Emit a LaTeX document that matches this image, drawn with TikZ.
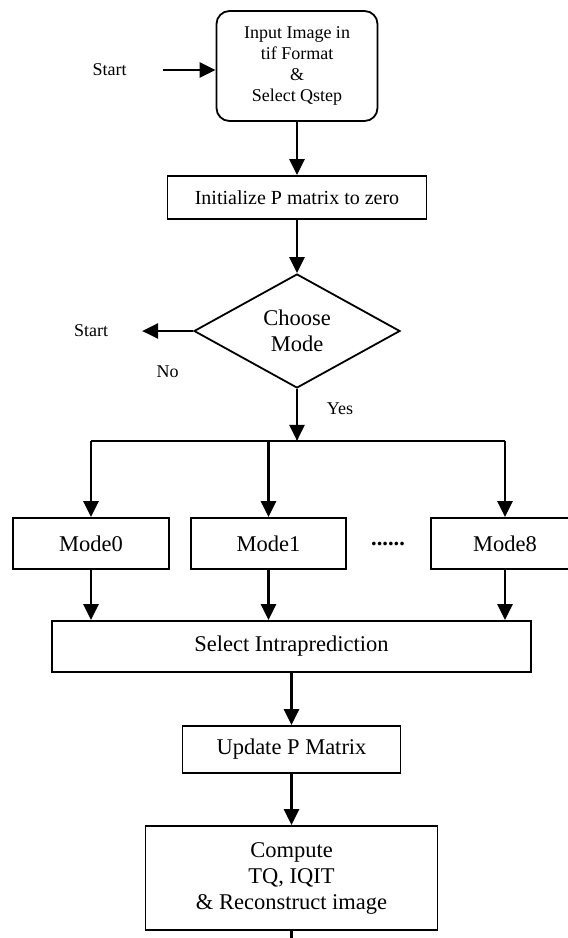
\documentclass[tikz,border=0pt]{standalone}
\usepackage{fontspec}
\setmainfont{Liberation Serif}
\usepackage{tikz}
\usetikzlibrary{shapes.geometric, arrows.meta}
\tikzstyle{block} = [rectangle, line width=1.8pt, minimum height=51pt, text centered, align=center, draw=black, font=\fontsize{22.5}{26}\selectfont]
\tikzstyle{terminus} = [rectangle, rounded corners=13pt, line width=1.8pt, minimum width=161pt, minimum height=110pt, align=center, draw=black, font=\fontsize{18}{21}\selectfont]
\tikzstyle{choix} = [diamond, line width=1.8pt, minimum width=206pt, minimum height=114pt, inner sep=0pt, align=center, draw=black, font=\fontsize{22.5}{26}\selectfont]
\tikzstyle{arrow} = [line width=2.6pt,-{Triangle[length=16pt,width=15pt]}]
\tikzstyle{wire} = [line width=2.6pt]
\tikzstyle{remark} = [font=\fontsize{18}{21}\selectfont]

\begin{document}
\begin{tikzpicture}[node distance=130pt]
	\useasboundingbox (0,0) rectangle (568pt,-938pt);
	\node (input) [terminus] at (297pt,-66pt) {Input Image in\\tif Format\\\&\\Select Qstep};
	\node (start) [remark, left of=input, xshift=-57.5pt, yshift=-4pt] {Start};
	\node (init) [block, below of=input, yshift=-1.5pt, minimum width=259pt, minimum height=43pt, font=\fontsize{20}{23}\selectfont] {Initialize P matrix to zero};
	\node (dec) [choix, below of=init, yshift=-3.5pt] {Choose\\Mode};
	\node (start2) [remark, left of=dec, xshift=-76pt] {Start};
	\coordinate (nostop) at ([xshift=-51pt]dec.west);
	\coordinate (fork) at ([yshift=-52pt]dec.south);
	\node (mode1) [block, below of=dec, yshift=-82.5pt, xshift=-28.5pt, minimum width=155pt] {Mode1};
	\node (mode0) [block, left of=mode1, xshift=-47.5pt, minimum width=156pt] {Mode0};
	\node (mode8) [block, right of=mode1, xshift=106.5pt, minimum width=148pt] {Mode8};
	\node (dots) [right of=mode1, xshift=-10.5pt, font=\fontsize{22.5}{26}\selectfont\bfseries] {......};
	\node (select) [block, below of=mode1, yshift=27pt, xshift=23pt, minimum width=479pt] {Select Intraprediction};
	\node (update) [block, below of=select, yshift=27pt, minimum width=218pt, minimum height=47pt] {Update P Matrix};
	\node (compute) [block, below of=update, yshift=1.5pt, minimum width=292pt, minimum height=104pt] {Compute\\TQ, IQIT\\\& Reconstruct image};
	\coordinate (tail) at ([yshift=-12pt]compute.south);

	\draw [arrow] (start.east -| 163pt,0) -- (start.east -| input.west);
	\draw [arrow] (input) -- (init);
	\draw [arrow] (init) -- (dec);
	\draw [arrow] (dec.west) -- node[remark, yshift=-41pt] {No} (nostop);
	\draw [arrow] (dec.south) -- node[remark, xshift=43pt, yshift=6pt] {Yes} (fork);
	\draw [wire] (fork -| mode0) -- (fork -| mode8);
	\draw [arrow] (fork -| mode0) -- (mode0);
	\draw [arrow] (fork -| mode1) -- (mode1);
	\draw [arrow] (fork -| mode8) -- (mode8);
	\draw [arrow] (mode0) -- (mode0 |- select.north);
	\draw [arrow] (mode1) -- (mode1 |- select.north);
	\draw [arrow] (mode8) -- (mode8 |- select.north);
	\draw [arrow] (select) -- (update);
	\draw [arrow] (update) -- (compute);
	\draw [wire] (compute) -- (tail);
\end{tikzpicture}
\end{document}
